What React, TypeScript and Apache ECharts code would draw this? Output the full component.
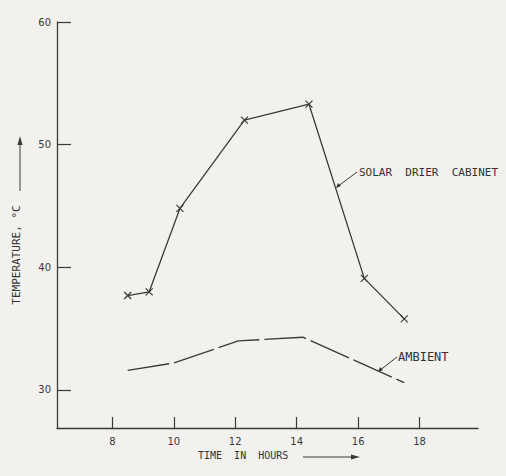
import React, { useEffect, useRef } from "react";
import * as echarts from "echarts";

const solarTimes = [8.5, 9.2, 10.2, 12.3, 14.4, 16.2, 17.5];
const solarTemps = [37.7, 38.0, 44.8, 52.0, 53.3, 39.1, 35.8];
const ambientTimes = [8.5, 10.0, 12.1, 14.2, 17.5];
const ambientTemps = [31.6, 32.2, 34.0, 34.3, 30.6];
const xTicks = [8, 10, 12, 14, 16, 18];
const yTicks = [30, 40, 50, 60];

const INK = "#3a3a3a";
const BG = "#f2f1ed";
const MONO = '"DejaVu Sans Mono", monospace';

export default function App() {
  const ref = useRef<HTMLDivElement>(null);
  useEffect(() => {
    if (!ref.current) return;
    document.body.style.background = BG;
    const chart = echarts.init(ref.current, undefined, { renderer: "svg" });
    const solar = solarTimes.map((t, i) => [t, solarTemps[i]]);
    const ambient = ambientTimes.map((t, i) => [t, ambientTemps[i]]);
    chart.setOption({
      animation: false,
      backgroundColor: BG,
      grid: { left: 57, right: 28, top: 22, bottom: 48 },
      xAxis: {
        type: "value",
        min: 6.2,
        max: 19.9,
        axisLine: { show: true, lineStyle: { color: INK, width: 1.3 } },
        axisTick: { show: true, inside: true, length: 11, customValues: xTicks, lineStyle: { color: INK, width: 1.2 } },
        axisLabel: { customValues: xTicks, margin: 8, color: "#3a3a3a", fontSize: 10, fontFamily: "DejaVu Sans" },
        splitLine: { show: false },
      },
      yAxis: {
        type: "value",
        min: 26.9,
        max: 60,
        axisLine: { show: true, lineStyle: { color: INK, width: 1.3 } },
        axisTick: { show: true, inside: true, length: 14, customValues: yTicks, lineStyle: { color: INK, width: 1.2 } },
        axisLabel: { customValues: yTicks, margin: 6, color: "#3a3a3a", fontSize: 10, fontFamily: "DejaVu Sans" },
        splitLine: { show: false },
      },
      series: [
        {
          name: "SOLAR DRIER CABINET",
          type: "line",
          data: solar,
          symbol: "path://M0,0L10,10M10,0L0,10",
          symbolSize: 7,
          itemStyle: { color: "rgba(0,0,0,0)", borderColor: INK, borderWidth: 1.2 },
          lineStyle: { color: INK, width: 1.3 },
        },
        {
          name: "AMBIENT",
          type: "line",
          data: ambient,
          showSymbol: false,
          symbol: "none",
          lineStyle: { color: INK, width: 1.4, type: [42, 5] },
        },
      ],
      graphic: [
        { type: "line", shape: { x1: 357, y1: 172, x2: 337, y2: 187 }, style: { stroke: INK, lineWidth: 1 } },
        { type: "polygon", shape: { points: [[336, 188], [338, 183], [341, 186]] }, style: { fill: INK } },
        {
          type: "text", x: 359, y: 172,
          style: { text: "SOLAR  DRIER  CABINET", font: `11px ${MONO}`, fill: "#333", verticalAlign: "middle" },
        },
        { type: "line", shape: { x1: 397, y1: 357, x2: 379, y2: 371 }, style: { stroke: INK, lineWidth: 1 } },
        { type: "polygon", shape: { points: [[378, 372], [380, 367], [383, 370]] }, style: { fill: INK } },
        {
          type: "text", x: 398, y: 357,
          style: { text: "AMBIENT", font: `12px ${MONO}`, fill: "#333", verticalAlign: "middle" },
        },
        {
          type: "text", x: 16, y: 255, rotation: Math.PI / 2,
          style: { text: "TEMPERATURE, °C", font: `11px ${MONO}`, fill: "#333", align: "center", verticalAlign: "middle" },
        },
        { type: "line", shape: { x1: 20, y1: 191, x2: 20, y2: 143 }, style: { stroke: INK, lineWidth: 1 } },
        { type: "polygon", shape: { points: [[20, 136], [17.5, 145], [22.5, 145]] }, style: { fill: INK } },
        {
          type: "text", x: 198, y: 455,
          style: { text: "TIME  IN  HOURS", font: `10px ${MONO}`, fill: "#333", verticalAlign: "middle" },
        },
        { type: "line", shape: { x1: 303, y1: 457, x2: 353, y2: 457 }, style: { stroke: INK, lineWidth: 1 } },
        { type: "polygon", shape: { points: [[360, 457], [351, 454.5], [351, 459.5]] }, style: { fill: INK } },
      ],
    });
    return () => chart.dispose();
  }, []);
  return <div ref={ref} style={{ position: "fixed", left: 0, top: 0, width: 506, height: 476 }} />;
}
